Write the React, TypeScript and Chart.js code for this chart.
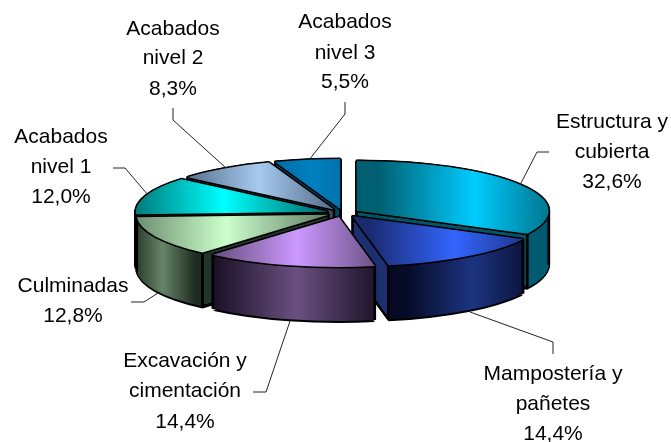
import React, { useEffect, useRef } from "react";
import { Chart, registerables } from "chart.js";

Chart.register(...registerables);

const categories = [
  ["Estructura y", "cubierta"],
  ["Mampostería y", "pañetes"],
  ["Excavación y", "cimentación"],
  ["Culminadas"],
  ["Acabados", "nivel 1"],
  ["Acabados", "nivel 2"],
  ["Acabados", "nivel 3"],
];
const shares = [32.6, 14.4, 14.4, 12.8, 12.0, 8.3, 5.5];

const topEdge = ["#005f70", "#1a2a70", "#6a5080", "#66866a", "#007070", "#566f8a", "#0070a8"];
const topMid = ["#00ccff", "#3366ff", "#cc99ff", "#ccffcc", "#00ffff", "#a6caf0", "#0080c0"];
const sideEdge = ["#005a70", "#060a26", "#1c1228", "#1e2c20", "#003838", "#2a3848", "#003c5c"];
const sideMid = ["#0088a8", "#1c3480", "#6a5080", "#668468", "#008080", "#54687c", "#004c80"];
const wallFill = ["#005566", "#1c2f70", "#3a2a50", "#22352a", "#005a5a", "#3e4e5e", "#004466"];

const paintOrder = [6, 0, 5, 4, 3, 1, 2];

const labelCenter = [612, 553, 185, 73, 61, 173, 345];
const labelBaseline = [
  [128, 158, 188],
  [380, 410, 440],
  [367, 397, 428],
  [292, 322],
  [143, 173, 203],
  [35, 64, 95],
  [28, 59, 88],
];
const leaders = [
  [[520, 185], [537, 152], [549, 152]],
  [[470, 312], [553, 342], [553, 354]],
  [[290, 321], [266, 392], [253, 392]],
  [[158, 293], [144, 302], [131, 302]],
  [[148, 195], [125, 168], [113, 168]],
  [[226, 168], [173, 120], [173, 108]],
  [[309, 160], [345, 114], [345, 102]],
];

const CX = 343;
const CY = 213;
const RADIUS = 192;
const SQUASH = 0.26;
const DEPTH = 54;
const EXPLODE = 16;
const EDGE = 1.5;

const pie3d = {
  id: "pie3d",
  beforeDatasetDraw(chart: any, args: any) {
    const ctx = chart.ctx as CanvasRenderingContext2D;
    const arcs = args.meta.data;

    const paint = (arc: any, fill: any, ax: number, ay: number) => {
      const base = arc.options;
      arc.options = { ...base, backgroundColor: fill, borderWidth: 0 };
      ctx.save();
      ctx.translate(ax, ay);
      ctx.scale(1, SQUASH);
      ctx.translate(-arc.x, -arc.y);
      arc.draw(ctx);
      ctx.restore();
      arc.options = base;
    };

    const grad = (x0: number, x1: number, edge: string, mid: string) => {
      const g = ctx.createLinearGradient(x0, 0, Math.max(x1, x0 + 1), 0);
      g.addColorStop(0, edge);
      g.addColorStop(0.5, mid);
      g.addColorStop(1, edge);
      return g;
    };

    paintOrder.forEach((i) => {
      const arc = arcs[i];
      const a0 = arc.startAngle;
      const a1 = arc.endAngle;
      const aMid = (a0 + a1) / 2;
      const px = CX + Math.cos(aMid) * EXPLODE;
      const py = CY + Math.sin(aMid) * EXPLODE * SQUASH;
      const R = arc.outerRadius;
      const at = (a: number) => [px + R * Math.cos(a), py + R * SQUASH * Math.sin(a)];

      // horizontal extent of the whole face
      const xs = [px, at(a0)[0], at(a1)[0]];
      for (let k = -2; k <= 4; k++) {
        const e = k * Math.PI;
        if (e > a0 && e < a1) xs.push(at(e)[0]);
      }
      const faceFill = grad(Math.min(...xs), Math.max(...xs), topEdge[i], topMid[i]);

      // horizontal extent of the outer wall that faces the viewer
      const v0 = Math.max(a0, 0);
      const v1 = Math.min(a1, Math.PI);
      const hasFront = v1 > v0;
      const sideFill = hasFront
        ? grad(Math.min(at(v0)[0], at(v1)[0]), Math.max(at(v0)[0], at(v1)[0]), sideEdge[i], sideMid[i])
        : sideEdge[i];

      // outline of the swept body
      for (let d = 0; d <= DEPTH; d++) {
        paint(arc, "#000", px - EDGE, py + d);
        paint(arc, "#000", px + EDGE, py + d);
      }
      paint(arc, "#000", px, py + DEPTH + EDGE + 0.5);

      // swept body
      for (let d = DEPTH; d >= 0; d--) paint(arc, sideFill, px, py + d);

      // radial walls facing the viewer
      const wall = (a: number) => {
        const [x, y] = at(a);
        ctx.beginPath();
        ctx.moveTo(px, py);
        ctx.lineTo(x, y);
        ctx.lineTo(x, y + DEPTH);
        ctx.lineTo(px, py + DEPTH);
        ctx.closePath();
        ctx.fillStyle = wallFill[i];
        ctx.fill();
        ctx.lineWidth = 2.5;
        ctx.lineJoin = "round";
        ctx.strokeStyle = "#000";
        ctx.stroke();
      };
      if (Math.cos(a0) < 0) wall(a0);
      if (Math.cos(a1) > 0) wall(a1);

      // corners of the outer wall
      if (hasFront) {
        ctx.strokeStyle = "#000";
        ctx.lineWidth = 2.5;
        [v0, v1].forEach((a) => {
          const [x, y] = at(a);
          ctx.beginPath();
          ctx.moveTo(x, y);
          ctx.lineTo(x, y + DEPTH);
          ctx.stroke();
        });
      }

      // top face with its outline
      for (let t = 0; t < 8; t++) {
        const o = (t * Math.PI) / 4;
        paint(arc, "#000", px + Math.cos(o) * EDGE, py + Math.sin(o) * EDGE);
      }
      paint(arc, faceFill, px, py);
    });
    return false;
  },
  afterDraw(chart: any) {
    const ctx = chart.ctx as CanvasRenderingContext2D;
    ctx.save();
    ctx.strokeStyle = "#222";
    ctx.lineWidth = 1;
    leaders.forEach((pts) => {
      ctx.beginPath();
      pts.forEach(([x, y], k) => (k ? ctx.lineTo(x, y) : ctx.moveTo(x, y)));
      ctx.stroke();
    });
    ctx.fillStyle = "#000";
    ctx.font = '21px "Liberation Sans", Arial, sans-serif';
    ctx.textAlign = "center";
    ctx.textBaseline = "alphabetic";
    categories.forEach((lines, i) => {
      const texts = [...lines, shares[i].toFixed(1).replace(".", ",") + "%"];
      texts.forEach((t, k) => ctx.fillText(t, labelCenter[i], labelBaseline[i][k]));
    });
    ctx.restore();
  },
};

export default function App() {
  const ref = useRef<HTMLCanvasElement>(null);
  useEffect(() => {
    const chart = new Chart(ref.current as HTMLCanvasElement, {
      type: "pie",
      data: {
        labels: categories.map((c) => c.join(" ")),
        datasets: [{ data: shares, radius: RADIUS, borderWidth: 0, backgroundColor: topMid }],
      },
      options: {
        responsive: false,
        animation: false,
        events: [],
        layout: { padding: 0 },
        plugins: { legend: { display: false }, tooltip: { enabled: false } },
      },
      plugins: [pie3d],
    } as any);
    return () => chart.destroy();
  }, []);
  return (
    <div style={{ position: "absolute", left: 0, top: 0, width: 671, height: 442, background: "#fff" }}>
      <canvas ref={ref} width={671} height={442} style={{ display: "block" }} />
    </div>
  );
}
